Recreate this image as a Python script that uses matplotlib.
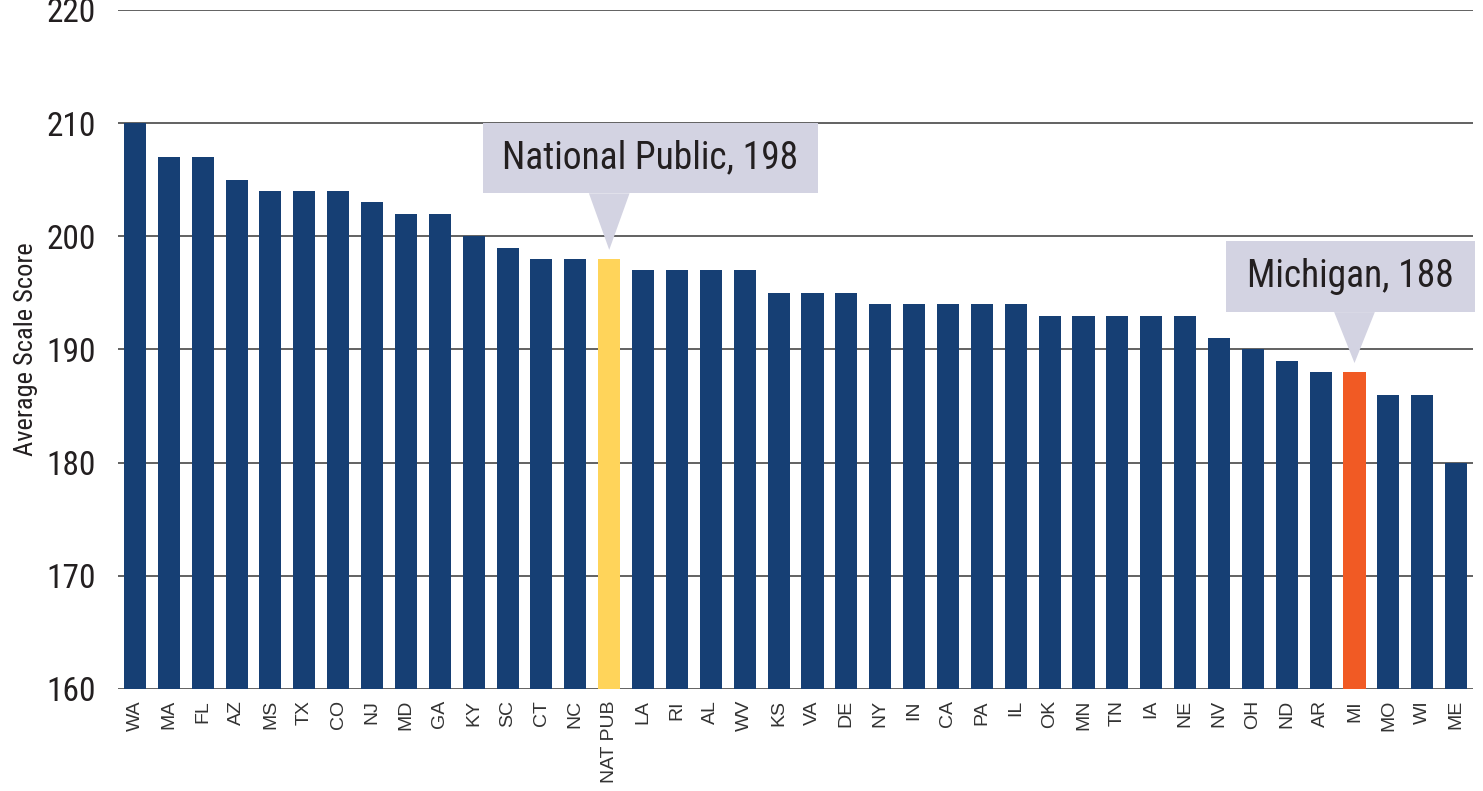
import matplotlib
matplotlib.use("Agg")
import matplotlib.pyplot as plt
from matplotlib.patches import Rectangle, Polygon
from matplotlib import font_manager

states = ["WA", "MA", "FL", "AZ", "MS", "TX", "CO", "NJ", "MD", "GA",
          "KY", "SC", "CT", "NC", "NAT PUB", "LA", "RI", "AL", "WV", "KS",
          "VA", "DE", "NY", "IN", "CA", "PA", "IL", "OK", "MN", "TN",
          "IA", "NE", "NV", "OH", "ND", "AR", "MI", "MO", "WI", "ME"]
scores = [210, 207, 207, 205, 204, 204, 204, 203, 202, 202,
          200, 199, 198, 198, 198, 197, 197, 197, 197, 195,
          195, 195, 194, 194, 194, 194, 194, 193, 193, 193,
          193, 193, 191, 190, 189, 188, 188, 186, 186, 180]
callouts = {"NAT PUB": "National Public, 198", "MI": "Michigan, 188"}

NAVY = "#163F74"
YELLOW = "#FFD45A"
ORANGE = "#F15A24"
BOX = "#D3D3E2"
TXT = "#231F20"

installed = {f.name for f in font_manager.fontManager.ttflist}
cond = [f for f in ["Roboto Condensed", "DejaVu Sans Condensed", "Roboto"] if f in installed]
cond_stretch = "condensed"

colors = [YELLOW if s == "NAT PUB" else ORANGE if s == "MI" else NAVY for s in states]

fig = plt.figure(figsize=(14.83, 7.91), dpi=100)
ax = fig.add_axes([0.0796, 0.129, 0.9137, 0.8584])

x = range(len(states))
ax.bar(x, [v - 160 for v in scores], bottom=160, width=0.65, color=colors, zorder=3)

ax.set_xlim(-0.5, len(states) - 0.5)
ax.set_ylim(160, 220)
ax.set_yticks(range(160, 221, 10))
ax.yaxis.grid(True, color="#555555", linewidth=1.3, zorder=1)
for sp in ax.spines.values():
    sp.set_visible(False)
ax.tick_params(axis="y", length=0, pad=16, labelcolor=TXT)
ax.tick_params(axis="x", length=0, pad=8)
for lbl in ax.get_yticklabels():
    lbl.set_family(cond)
    lbl.set_fontsize(24)
    lbl.set_fontstretch(cond_stretch)
ax.set_xticks(list(x))
ax.set_xticklabels(states, rotation=90, fontsize=14, color="#333333",
                   family=["Liberation Sans", "DejaVu Sans"], va="top")
ax.set_ylabel("Average Scale Score", fontsize=19, color=TXT, family=cond,
              fontstretch=cond_stretch, labelpad=6)

# callout boxes: box left/right offsets from the bar, bottom/top in score units
specs = {"NAT PUB": (-3.73, 6.15, 203.8, 210.0),
         "MI": (-3.8, 3.55, 193.3, 199.6)}
for name, text in callouts.items():
    i = states.index(name)
    v = scores[i]
    l, r, b, t = specs[name]
    ax.add_patch(Rectangle((i + l, b), r - l, t - b, facecolor=BOX,
                           edgecolor="none", zorder=4, clip_on=False))
    ax.add_patch(Polygon([(i - 0.6, b), (i + 0.6, b), (i, v + 0.8)],
                         closed=True, facecolor=BOX, edgecolor="none",
                         zorder=4, clip_on=False))
    ax.text(i + (l + r) / 2, (b + t) / 2, text, ha="center", va="center",
            fontsize=27, color=TXT, family=cond, fontstretch=cond_stretch, zorder=5)

fig.savefig("out.png", dpi=100)
